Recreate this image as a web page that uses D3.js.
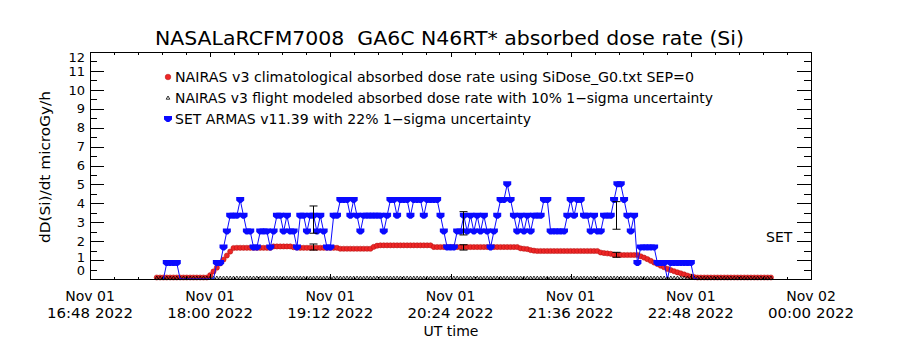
<!DOCTYPE html>
<html><head><meta charset="utf-8">
<script src="https://cdn.jsdelivr.net/npm/d3@7"></script>
<style>body{margin:0;background:#fff}svg{display:block}text{font-family:"DejaVu Sans",sans-serif;fill:#000;white-space:pre}</style>
</head><body>
<svg id="c" width="900" height="350"></svg>
<script>
// ---------------- data ----------------
const chartTitle = "NASALaRCFM7008  GA6C N46RT* absorbed dose rate (Si)";
const yTitle = "dD(Si)/dt microGy/h";
const xTitle = "UT time";
const seriesLabels = [
  "NAIRAS v3 climatological absorbed dose rate using SiDose_G0.txt SEP=0",
  "NAIRAS v3 flight modeled absorbed dose rate with 10% 1\u2212sigma uncertainty",
  "SET ARMAS v11.39 with 22% 1\u2212sigma uncertainty"
];
const sideLabel = "SET";
const xDomain = ["2022-11-01T16:48:00Z", "2022-11-02T00:00:00Z"];
const xTickTimes = ["2022-11-01T16:48:00Z","2022-11-01T18:00:00Z","2022-11-01T19:12:00Z","2022-11-01T20:24:00Z","2022-11-01T21:36:00Z","2022-11-01T22:48:00Z","2022-11-02T00:00:00Z"];
const xTickDay = ["Nov 01","Nov 01","Nov 01","Nov 01","Nov 01","Nov 01","Nov 02"];
const xTickClock = ["16:48 2022","18:00 2022","19:12 2022","20:24 2022","21:36 2022","22:48 2022","00:00 2022"];
const xMinorStepMin = 14.4;
const yTicks = [0,1,2,3,4,5,6,7,8,9,10,11,12];

// NAIRAS samples: every 2 minutes from 17:28 UT
const nairasStart = "2022-11-01T17:28:00Z";
const sampleStepMin = 2;
const nairasClim = [
  0.08,0.08,0.08,0.08,0.08,0.08,0.08,0.08,0.08,0.08,0.08,0.08,0.08,0.08,0.08,0.08,
  0.2,0.4,0.6,0.82,1.03,1.24,1.45,1.64,
  1.65,1.65,1.65,1.65,1.65,1.65,1.65,1.65,1.65,1.65,1.65,
  1.72,1.72,1.72,1.72,1.72,1.72,
  1.68,1.66,
  1.65,1.65,1.65,1.65,1.65,1.65,1.65,1.65,1.65,1.65,1.65,1.65,
  1.6,1.6,1.6,1.6,1.6,1.6,1.6,1.6,1.6,1.6,
  1.7,1.76,
  1.78,1.78,1.78,1.78,1.78,1.78,1.78,1.78,1.78,1.78,1.78,1.78,1.78,1.78,1.78,1.78,
  1.69,1.69,1.69,1.69,1.69,1.69,1.69,1.69,1.69,1.69,1.69,1.69,1.69,1.69,1.69,1.69,1.69,1.69,1.69,1.69,1.69,1.69,1.69,1.69,1.69,1.69,
  1.62,1.6,1.58,
  1.53,1.5,
  1.48,1.48,1.48,1.48,1.48,1.48,1.48,1.48,1.48,1.48,1.48,1.48,1.48,1.48,1.48,1.48,1.48,1.48,1.48,
  1.4,1.37,1.35,1.33,
  1.28,1.27,1.27,1.27,1.27,1.27,1.27,1.27,
  1.2,1.13,1.05,0.96,0.87,0.79,0.7,0.62,0.53,0.47,0.41,0.35,0.3,0.24,0.18,0.13,0.1,
  0.08,0.08,0.08,0.08,0.08,0.08,0.08,0.08,0.08,0.08,0.08,0.08,0.08,0.08,0.08,0.08,0.08,0.08,0.08,0.08,0.08,0.08,0.08
];
const nairasFlight = [
  0,0,0,0,0,0,0,0,0,0,0,0,0,0,0,0,0,0,0,0,
  0,0,0,0,0,0,0,0,0,0,0,0,0,0,0,0,0,0,0,0,
  0,0,0,0,0,0,0,0,0,0,0,0,0,0,0,0,0,0,0,0,
  0,0,0,0,0,0,0,0,0,0,0,0,0,0,0,0,0,0,0,0,
  0,0,0,0,0,0,0,0,0,0,0,0,0,0,0,0,0,0,0,0,
  0,0,0,0,0,0,0,0,0,0,0,0,0,0,0,0,0,0,0,0,
  0,0,0,0,0,0,0,0,0,0,0,0,0,0,0,0,0,0,0,0,
  0,0,0,0,0,0,0,0,0,0,0,0,0,0,0,0,0,0,0,0,
  0,0,0,0,0,0,0,0,0,0,0,0,0,0,0,0,0,0,0,0,
  0,0,0,0,0
];
// SET ARMAS samples: every 2 minutes from 17:32 UT
const setStart = "2022-11-01T17:32:00Z";
const setArmas = [
  0,.84,.84,.84,.84,0,0,0,0,0,
  0,0,0,0,0,0,.84,.84,1.67,2.51,
  3.34,3.34,3.34,4.18,3.34,2.51,2.51,1.67,1.67,2.51,
  2.51,2.51,1.67,2.51,3.34,3.34,2.51,3.34,2.51,2.51,
  1.67,3.34,3.34,2.51,3.34,3.34,2.51,3.34,2.51,1.67,
  1.67,3.34,3.34,4.18,4.18,4.18,3.34,4.18,3.34,2.51,
  3.34,3.34,3.34,3.34,3.34,3.34,2.51,3.34,4.18,4.18,
  3.34,4.18,4.18,4.18,3.34,4.18,4.18,4.18,3.34,4.18,
  4.18,4.18,4.18,3.34,2.51,1.67,1.67,1.67,2.51,2.51,
  3.34,2.51,3.34,2.51,3.34,2.51,3.34,2.51,1.67,2.51,
  3.34,4.18,4.18,5.01,4.18,3.34,2.51,3.34,2.51,3.34,
  2.51,3.34,3.34,3.34,4.18,4.18,2.51,2.51,2.51,2.51,
  2.51,3.34,4.18,3.34,4.18,4.18,3.34,3.34,2.51,3.34,
  2.51,2.51,3.34,3.34,3.34,4.18,5.01,5.01,4.18,3.34,
  2.51,3.34,.84,1.67,1.67,1.67,1.67,1.67,.84,.84,
  .84,0,.84,.84,.84,.84,.84,.84,.84,0,
  0
];
// error bars
const errTimes = ["2022-11-01T19:01:36Z","2022-11-01T20:31:30Z","2022-11-01T22:03:12Z"];
const setErrLow = [2.42,2.33,2.63];
const setErrHigh = [3.86,3.56,4.09];
const nairasErrLow = [1.53,1.53,1.15];
const nairasErrHigh = [1.85,1.81,1.41];

// ---------------- drawing ----------------
const svg = d3.select("#c");
const L = 90, R = 811, T = 52, B = 279;
const x = d3.scaleUtc().domain(xDomain.map(d => new Date(d))).range([L, R]);
const y = d3.scaleLinear().domain([0, 12]).range([B, T]);
const stepMs = sampleStepMin * 60000;
const tN0 = new Date(nairasStart).getTime();
const tS0 = new Date(setStart).getTime();
const clim = nairasClim.map((v, i) => ({t: new Date(tN0 + i * stepMs), v}));
const flight = nairasFlight.map((v, i) => ({t: new Date(tN0 + i * stepMs), v}));
const setD = setArmas.map((v, i) => ({t: new Date(tS0 + i * stepMs), v}));

const red = "#ee2626", blue = "#0a0aff";
const plot = svg.append("g");

// red climatological markers
plot.selectAll("circle.clim").data(clim).join("circle")
  .attr("cx", d => x(d.t)).attr("cy", d => y(d.v)).attr("r", 2.6)
  .attr("fill", red).attr("stroke", "#b01010").attr("stroke-width", 0.5);

// black flight markers (triangles)
const tri = "M0,-2L1.8,1.2L-1.8,1.2Z";
plot.selectAll("path.fl").data(flight).join("path")
  .attr("d", tri).attr("transform", d => `translate(${x(d.t)},${y(d.v) - 1})`)
  .attr("fill", "none").attr("stroke", "#000").attr("stroke-width", 0.8);

// SET line + markers
plot.append("path").datum(setD)
  .attr("d", d3.line().x(d => x(d.t)).y(d => y(d.v)))
  .attr("fill", "none").attr("stroke", blue).attr("stroke-width", 1);
const bullet = "M-4,-3H4V0.6L1.2,3H-1.2L-4,0.6Z";
plot.selectAll("path.set").data(setD.filter(d => d.v > 0)).join("path")
  .attr("d", bullet).attr("transform", d => `translate(${x(d.t)},${y(d.v)})`)
  .attr("fill", blue);

// error bars
function errBars(lo, hi) {
  errTimes.forEach((t, i) => {
    const cx = Math.round(x(new Date(t))) + 0.5;
    const g = plot.append("g").attr("stroke", "#000").attr("stroke-width", 1);
    g.append("line").attr("x1", cx).attr("x2", cx).attr("y1", y(lo[i])).attr("y2", y(hi[i]));
    g.append("line").attr("x1", cx - 4).attr("x2", cx + 4).attr("y1", y(lo[i])).attr("y2", y(lo[i]));
    g.append("line").attr("x1", cx - 4).attr("x2", cx + 4).attr("y1", y(hi[i])).attr("y2", y(hi[i]));
  });
}
errBars(setErrLow, setErrHigh);
errBars(nairasErrLow, nairasErrHigh);

// axes
const xMajor = xTickTimes.map(d => new Date(d));
const x0 = new Date(xDomain[0]).getTime(), x1 = new Date(xDomain[1]).getTime();
const xMinor = d3.range(x0, x1 + 1, xMinorStepMin * 60000).map(d => new Date(d));
const yMinor = d3.range(0.5, 12, 1);
function ax(gen, tx, ty) {
  const g = svg.append("g").attr("transform", `translate(${tx},${ty})`).call(gen);
  g.select(".domain").remove();
  g.selectAll("text").remove();
  g.selectAll("line").attr("stroke", "#000").attr("shape-rendering", "crispEdges");
  return g;
}
ax(d3.axisBottom(x).tickValues(xMinor).tickSize(-2.5), 0, B);
ax(d3.axisBottom(x).tickValues(xMajor).tickSize(-5), 0, B);
ax(d3.axisTop(x).tickValues(xMinor).tickSize(-2.5), 0, T);
ax(d3.axisTop(x).tickValues(xMajor).tickSize(-5), 0, T);
ax(d3.axisLeft(y).tickValues(yTicks).tickSize(-14), L, 0);
ax(d3.axisLeft(y).tickValues(yMinor).tickSize(-7), L, 0);
ax(d3.axisRight(y).tickValues(yTicks).tickSize(-14), R, 0);
ax(d3.axisRight(y).tickValues(yMinor).tickSize(-7), R, 0);
svg.append("rect").attr("x", L + 0.5).attr("y", T + 0.5).attr("width", R - L).attr("height", B - T)
  .attr("fill", "none").attr("stroke", "#000").attr("stroke-width", 1);

// tick labels
const yl = svg.append("g").attr("font-size", 13).attr("text-anchor", "end");
yTicks.forEach(v => {
  const shift = v === 12 ? 5 : (v === 0 ? -8.5 : (v === 1 ? -3 : 0));
  yl.append("text").attr("x", 85).attr("y", y(v) + shift).attr("dy", "0.36em").text(v);
});
const xl = svg.append("g").attr("font-size", 14).attr("text-anchor", "middle");
xMajor.forEach((d, i) => {
  xl.append("text").attr("x", x(d)).attr("y", 301).text(xTickDay[i]);
  xl.append("text").attr("x", x(d)).attr("y", 318).attr("textLength", 86).attr("lengthAdjust", "spacingAndGlyphs").text(xTickClock[i]);
});

// titles
svg.append("text").attr("x", 155).attr("y", 45)
  .attr("font-size", 19).attr("textLength", 589).attr("lengthAdjust", "spacingAndGlyphs").text(chartTitle);
svg.append("text").attr("x", 451).attr("y", 336).attr("text-anchor", "middle")
  .attr("font-size", 14).text(xTitle);
svg.append("text").attr("transform", "translate(50,167) rotate(-90)").attr("text-anchor", "middle")
  .attr("font-size", 14).attr("textLength", 152).attr("lengthAdjust", "spacingAndGlyphs").text(yTitle);
svg.append("text").attr("x", 766).attr("y", 242).attr("font-size", 14).text(sideLabel);

// legend
const lg = svg.append("g");
const legY = [77, 98, 119];
const legLen = [519, 538, 356];
lg.append("circle").attr("cx", 168).attr("cy", legY[0]).attr("r", 2.8).attr("fill", red).attr("stroke", "#b01010").attr("stroke-width", 0.5);
lg.append("path").attr("d", tri).attr("transform", `translate(168,${legY[1]})`).attr("fill", "none").attr("stroke", "#000").attr("stroke-width", 0.8);
lg.append("path").attr("d", bullet).attr("transform", `translate(168,${legY[2]})`).attr("fill", blue);
seriesLabels.forEach((s, i) => {
  lg.append("text").attr("x", 175).attr("y", legY[i]).attr("dy", "0.36em").attr("font-size", 13.5)
    .attr("textLength", legLen[i]).attr("lengthAdjust", "spacingAndGlyphs").text(s);
});
</script>
</body></html>
